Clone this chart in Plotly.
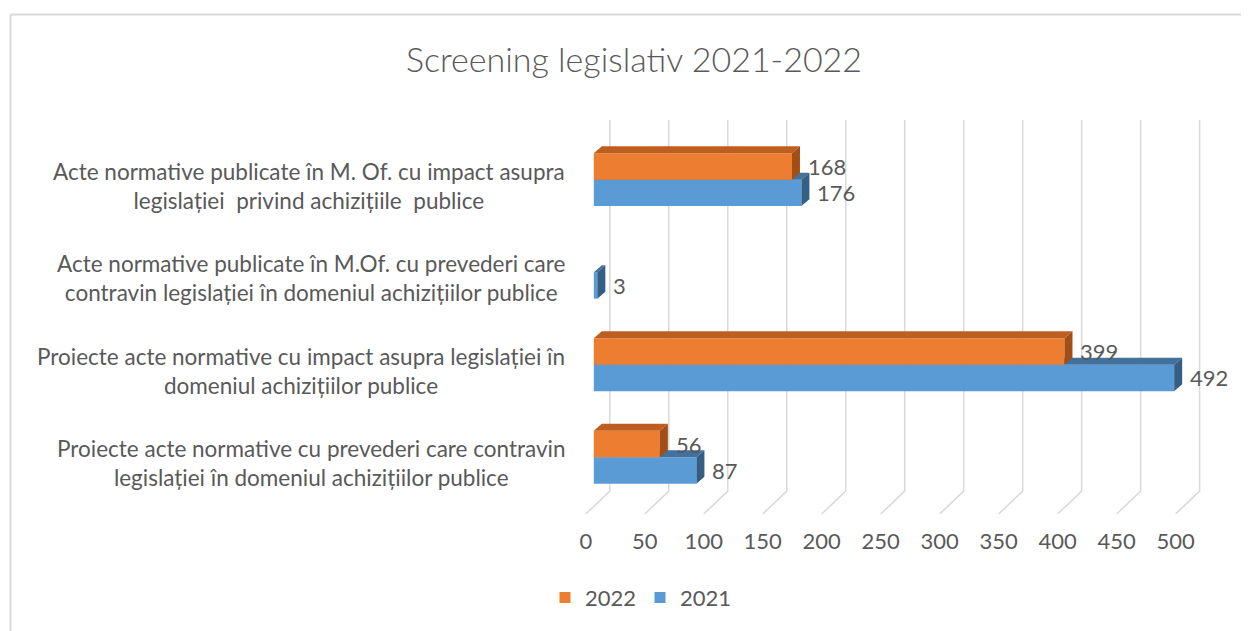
import plotly.graph_objects as go

# categories bottom -> top
categories = [
    "Proiecte acte normative cu prevederi care contravin<br>legislației în domeniul achizițiilor publice",
    "Proiecte acte normative cu impact asupra legislației în<br>domeniul achizițiilor publice",
    "Acte normative publicate în M.Of. cu prevederi care<br>contravin legislației în domeniul achizițiilor publice",
    "Acte normative publicate în M. Of. cu impact asupra<br>legislației  privind achizițiile  publice",
]
values_2021 = [87, 492, 3, 176]
values_2022 = [56, 399, 0, 168]
tick_vals = [0, 50, 100, 150, 200, 250, 300, 350, 400, 450, 500]

TXT = "#595959"
FONT = "Lato"

# page has an 8px body margin, so work in page pixels and subtract it
OFF = 8
W, H = 1249 - OFF, 631 - OFF
L, R, T, B = 582 - OFF, 1219 - OFF, 110 - OFF, 516 - OFF
xr = [-10, 530]
kx = (R - L) / (xr[1] - xr[0])
ky = 93.0  # px per category
Y0 = 459  # page y of first category
yr = [-(B + OFF - Y0) / ky, -(B + OFF - Y0) / ky + (B - T) / ky]


def px_x(p):
    return (p - OFF - L) / (R - L)


def px_y(p):
    return (B - (p - OFF)) / (B - T)


# 3d offsets (data units)
dx = 8 / kx
dy = 7 / ky
g_back = 16 / kx
g_front = -8 / kx
g_top = (Y0 - 120) / ky
g_floor = (Y0 - 493) / ky
h = 0.143

fig = go.Figure()

# gridlines (back wall + floor)
gx, gy = [], []
for v in tick_vals:
    gx += [v + g_back, v + g_back, v + g_front, None]
    gy += [g_top, g_floor, yr[0], None]
fig.add_trace(go.Scatter(x=gx, y=gy, mode="lines", line=dict(color="#D9D9D9", width=1.5),
                         hoverinfo="skip", showlegend=False))

series = [
    ("2021", values_2021, -h, "#5B9BD5", "#41719C", "#355E85"),
    ("2022", values_2022, h, "#ED7D31", "#BE5F22", "#A44E17"),
]

for i in range(len(categories)):
    for name, vals, off, c_front, c_top, c_side in series:
        v = vals[i]
        if v == 0:
            continue
        c = i + off
        faces = [
            ([0, v, v, 0, 0], [c - h, c - h, c + h, c + h, c - h], c_front),
            ([0, v, v + dx, dx, 0], [c + h, c + h, c + h + dy, c + h + dy, c + h], c_top),
            ([v, v + dx, v + dx, v, v], [c - h, c - h + dy, c + h + dy, c + h, c - h], c_side),
        ]
        for fx, fy, col in faces:
            fig.add_trace(go.Scatter(x=fx, y=fy, fill="toself", fillcolor=col, mode="lines",
                                     line=dict(width=0, color=col), hoverinfo="skip",
                                     showlegend=False))
        fig.add_annotation(x=v, y=c, xref="x", yref="y", text=str(v), showarrow=False,
                           xanchor="left", xshift=14, font=dict(family=FONT, size=22, color=TXT))

# legend entries
for name, col in [("2022", "#ED7D31"), ("2021", "#5B9BD5")]:
    fig.add_trace(go.Scatter(x=[None], y=[None], mode="markers", name=name,
                             marker=dict(symbol="square", size=11, color=col)))

# category labels
for i, cat in enumerate(categories):
    fig.add_annotation(x=px_x(567), y=i, xref="paper", yref="y", text=cat, showarrow=False,
                       xanchor="right", align="center", yshift=-6,
                       font=dict(family=FONT, size=22.5, color=TXT))

# chart frame
fig.add_shape(type="line", xref="paper", yref="paper", x0=px_x(10.5), x1=px_x(1260),
              y0=px_y(14), y1=px_y(14), line=dict(color="#D9D9D9", width=2))
fig.add_shape(type="line", xref="paper", yref="paper", x0=px_x(10.5), x1=px_x(10.5),
              y0=px_y(14), y1=px_y(640), line=dict(color="#D9D9D9", width=2))

fig.update_layout(
    width=W, height=H,
    margin=dict(l=L, r=W - R, t=T, b=H - B),
    paper_bgcolor="white", plot_bgcolor="white",
    title=dict(text="Screening legislativ 2021-2022", x=(634 - OFF) / W, xanchor="center",
               y=1 - (60 - OFF) / H, yanchor="middle", yref="container",
               font=dict(family=FONT, size=34, color=TXT, weight=300)),
    xaxis=dict(range=xr, tickvals=tick_vals, showgrid=False, zeroline=False, showline=False,
               ticks="", ticklabelshift=-8, ticklabelstandoff=12,
               tickfont=dict(family=FONT, size=22, color=TXT)),
    yaxis=dict(range=yr, showgrid=False, zeroline=False, showline=False, showticklabels=False,
               ticks=""),
    legend=dict(orientation="h", x=px_x(640), y=px_y(600), xanchor="center", yanchor="middle",
                font=dict(family=FONT, size=22, color=TXT), itemwidth=30, entrywidth=50),
    showlegend=True,
)

fig.write_html("out.html")
